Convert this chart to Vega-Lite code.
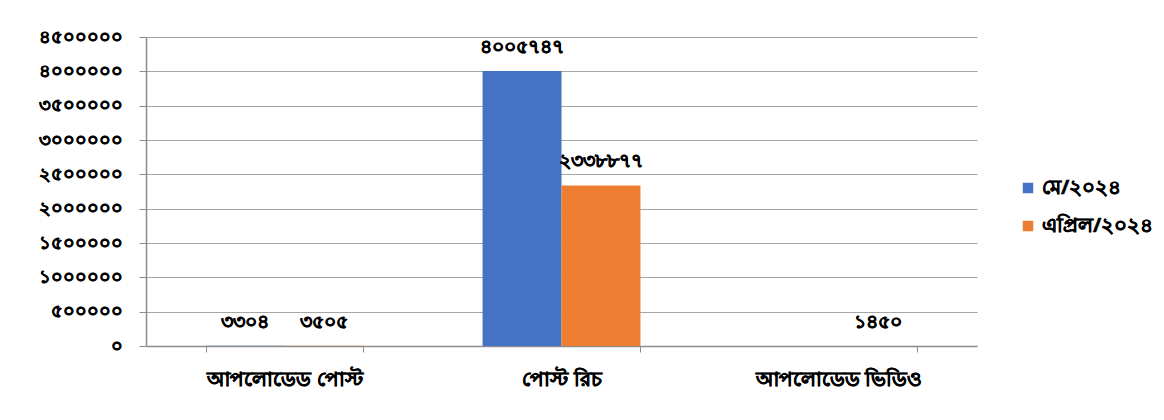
{
  "$schema": "https://vega.github.io/schema/vega-lite/v6.json",
  "autosize": {"type": "none"},
  "padding": {"left": 146, "top": 37, "right": 187, "bottom": 74},
  "width": 831,
  "height": 309,
  "background": "white",
  "config": {
    "font": "Noto Sans",
    "view": {"stroke": null},
    "style": {"guide-label": {"stroke": "black", "strokeWidth": 0.5}}
  },
  "data": {
    "values": [
      {"category": "আপলোডেড পোস্ট", "series": "মে/২০২৪", "value": 3304, "label": "৩৩০৪"},
      {"category": "আপলোডেড পোস্ট", "series": "এপ্রিল/২০২৪", "value": 3505, "label": "৩৫০৫"},
      {"category": "পোস্ট রিচ", "series": "মে/২০২৪", "value": 4005747, "label": "৪০০৫৭৪৭"},
      {"category": "পোস্ট রিচ", "series": "এপ্রিল/২০২৪", "value": 2338877, "label": "২৩৩৮৮৭৭"},
      {"category": "আপলোডেড ভিডিও", "series": "এপ্রিল/২০২৪", "value": 1450, "label": "১৪৫০"}
    ]
  },
  "encoding": {
    "x": {
      "field": "category",
      "type": "nominal",
      "sort": ["আপলোডেড পোস্ট", "পোস্ট রিচ", "আপলোডেড ভিডিও"],
      "scale": {"paddingInner": 0.43, "paddingOuter": 0.215},
      "axis": {
        "title": null,
        "labelAngle": 0,
        "labelFontSize": 20,
        "labelFontWeight": "bold",
        "labelColor": "black",
        "labelPadding": 17,
        "tickBand": "extent",
        "tickSize": 6,
        "tickColor": "#8c8c8c",
        "domainColor": "#8c8c8c",
        "domainWidth": 1.5,
        "grid": false
      }
    },
    "xOffset": {
      "field": "series",
      "type": "nominal",
      "sort": ["মে/২০২৪", "এপ্রিল/২০২৪"],
      "scale": {"domain": ["মে/২০২৪", "এপ্রিল/২০২৪"], "paddingInner": 0, "paddingOuter": 0}
    },
    "y": {
      "field": "value",
      "type": "quantitative",
      "scale": {"domain": [0, 4500000], "nice": false},
      "axis": {
        "title": null,
        "values": [0, 500000, 1000000, 1500000, 2000000, 2500000, 3000000, 3500000, 4000000, 4500000],
        "format": "d",
        "labelExpr": "replace(replace(replace(replace(replace(replace(datum.label,/0/g,'০'),/1/g,'১'),/2/g,'২'),/3/g,'৩'),/4/g,'৪'),/5/g,'৫')",
        "labelFontSize": 18,
        "labelFontWeight": "bold",
        "labelColor": "black",
        "labelPadding": 17,
        "tickSize": 7,
        "tickColor": "#8c8c8c",
        "domainColor": "#8c8c8c",
        "domainWidth": 1.5,
        "gridColor": "#a6a6a6",
        "gridWidth": 1.2
      }
    }
  },
  "layer": [
    {
      "mark": {"type": "bar"},
      "encoding": {
        "color": {
          "field": "series",
          "type": "nominal",
          "sort": ["মে/২০২৪", "এপ্রিল/২০২৪"],
          "scale": {"domain": ["মে/২০২৪", "এপ্রিল/২০২৪"], "range": ["#4472C4", "#ED7D31"]},
          "legend": {
            "title": null,
            "orient": "none",
            "legendX": 872,
            "legendY": 141,
            "symbolType": "square",
            "symbolSize": 110,
            "symbolStrokeWidth": 0,
            "labelFontSize": 20,
            "labelFontWeight": "bold",
            "labelColor": "black",
            "labelOffset": 4,
            "rowPadding": 18,
            "labelLimit": 300
          }
        }
      }
    },
    {
      "mark": {"type": "text", "baseline": "bottom", "dy": -14, "fontSize": 19, "fontWeight": "bold", "color": "black", "stroke": "black", "strokeWidth": 0.5},
      "encoding": {
        "text": {"field": "label"}
      }
    }
  ]
}
